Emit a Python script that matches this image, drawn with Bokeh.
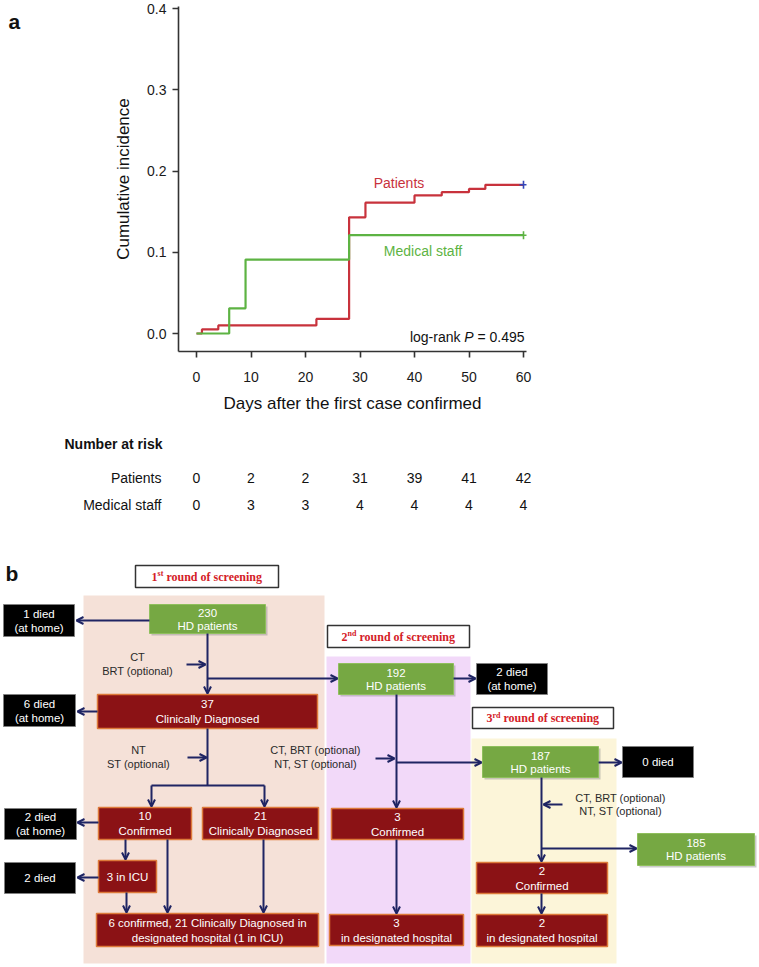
from bokeh.plotting import figure
from bokeh.layouts import column, row
from bokeh.models import (Range1d, FixedTicker, PrintfTickFormatter,
                          ColumnDataSource, Arrow, OpenHead)
from bokeh.core.properties import value
from bokeh.embed import file_html
from bokeh.resources import INLINE

# ---------------- data: panel a ----------------
pat_days = [0, 1, 4, 22, 28, 31, 40, 45, 50, 53, 60]
pat_inc = [0.0, 0.005, 0.010, 0.018, 0.143, 0.161, 0.170, 0.174, 0.178, 0.183, 0.183]
staff_days = [0, 6, 9, 28, 60]
staff_inc = [0.0, 0.031, 0.091, 0.121, 0.121]
x_ticks = [0, 10, 20, 30, 40, 50, 60]
y_ticks = [0.0, 0.1, 0.2, 0.3, 0.4]
risk_days = [0, 10, 20, 30, 40, 50, 60]
risk_patients = [0, 2, 2, 31, 39, 41, 42]
risk_staff = [0, 3, 3, 4, 4, 4, 4]
risk_groups = ["Patients", "Medical staff"]
p_text = ["log-rank", "P", "= 0.495"]

# ---------------- data: panel b (flowchart texts) ----------------
header_num = ["1", "2", "3"]
header_sup = ["st", "nd", "rd"]
header_rest = "round of screening"
green_nodes = [["230", "HD patients"], ["192", "HD patients"],
               ["187", "HD patients"], ["185", "HD patients"]]
red_nodes = [["37", "Clinically Diagnosed"], ["10", "Confirmed"],
             ["21", "Clinically Diagnosed"], ["3 in ICU"],
             ["6 confirmed, 21 Clinically Diagnosed in", "designated hospital (1 in ICU)"],
             ["3", "Confirmed"], ["3", "in designated hospital"],
             ["2", "Confirmed"], ["2", "in designated hospital"]]
black_nodes = [["1 died", "(at home)"], ["6 died", "(at home)"],
               ["2 died", "(at home)"], ["2 died"],
               ["2 died", "(at home)"], ["0 died"]]
side_notes = [["CT", "BRT (optional)"], ["NT", "ST (optional)"],
              ["CT, BRT (optional)", "NT, ST (optional)"],
              ["CT, BRT (optional)", "NT, ST (optional)"]]

# ---------------- layout (page pixel positions) ----------------
panels = [(83, 595, 324, 963), (326, 656, 470, 963), (471, 738, 616, 963)]
panel_colors = ["#f5e1d8", "#f2d9f9", "#fcf5d9"]
header_boxes = [(135, 565, 278, 587), (327, 625, 469, 647), (472, 707, 613, 728)]
green_boxes = [(149, 604, 265, 633), (338, 663, 453, 694),
               (482, 746, 598, 777), (637, 833, 754, 865)]
red_boxes = [(97, 694, 317, 728), (98, 807, 191, 839), (202, 807, 318, 839),
             (98, 860, 156, 892), (96, 913, 318, 946), (331, 808, 463, 839),
             (329, 914, 463, 945), (476, 862, 607, 893), (476, 914, 607, 946)]
black_boxes = [(3, 604, 74, 636), (3, 694, 75, 726), (4, 808, 76, 839),
               (4, 862, 75, 893), (476, 663, 547, 694), (622, 746, 693, 777)]
side_pos = [(137, 663.5), (138, 756.5), (315, 756.5), (620, 804)]
arrows = [(149, 620, 76, 620), (207, 633, 207, 693), (186, 664, 205, 664),
          (207, 678, 337, 678), (97, 711, 77, 711), (151, 785, 151, 806),
          (264, 785, 264, 806), (187, 757, 206, 757), (98, 822, 77, 822),
          (125, 839, 125, 859), (98, 877, 77, 877), (126, 892, 126, 912),
          (167, 839, 167, 912), (263, 839, 263, 912), (453, 678, 475, 678),
          (396, 694, 396, 807), (375, 758, 394, 758), (396, 762, 481, 762),
          (396, 839, 396, 913), (598, 762, 621, 762), (541, 777, 541, 861),
          (562, 804, 543, 804), (541, 848, 636, 848), (541, 893, 541, 913)]
plain_lines = [(207, 728, 207, 785), (151, 785, 264, 785)]

FONT = "Liberation Sans"
NAVY = "#1f2463"
RED = "#c8323c"
GREEN = "#5db343"
PX0, PXD = 196.0, 5.45          # page x of day 0, pixels per day
PY0, PYS = 333.0, 812.5         # page y of 0.0, pixels per unit


def clean(p):
    p.grid.visible = False
    p.outline_line_color = None
    p.background_fill_color = None
    p.border_fill_color = None


# ---------------- label "a" ----------------
fa_lab = figure(width=28, height=420, x_range=Range1d(0, 28), y_range=Range1d(420, 0),
                x_axis_location=None, y_axis_location=None, min_border=0,
                output_backend="svg", toolbar_location=None)
clean(fa_lab)
fa_lab.text(x=[8], y=[18], text=["a"], text_font=value(FONT), text_font_size="21px",
            text_font_style="bold", text_color="#111111", text_baseline="alphabetic")

# ---------------- panel a ----------------
fa = figure(width=731, height=420,
            x_range=Range1d((178 - PX0) / PXD, (526 - PX0) / PXD),
            y_range=Range1d(-(351 - PY0) / PYS, (PY0 - 6) / PYS),
            min_border_left=150, min_border_right=233, min_border_top=6,
            min_border_bottom=69, output_backend="svg", toolbar_location=None)
clean(fa)
for ax in (fa.xaxis[0], fa.yaxis[0]):
    ax.axis_line_color = "#333333"
    ax.axis_line_width = 1.6
    ax.major_tick_line_color = "#333333"
    ax.major_tick_line_width = 1.6
    ax.major_tick_out = 6
    ax.major_tick_in = 0
    ax.minor_tick_line_color = None
    ax.major_label_text_font = FONT
    ax.major_label_text_font_size = "14px"
    ax.major_label_text_color = "#1a1a1a"
    ax.axis_label_text_font = FONT
    ax.axis_label_text_font_size = "17px"
    ax.axis_label_text_font_style = "normal"
    ax.axis_label_text_color = "#111111"
fa.xaxis[0].ticker = FixedTicker(ticks=x_ticks)
fa.yaxis[0].ticker = FixedTicker(ticks=y_ticks)
fa.yaxis[0].formatter = PrintfTickFormatter(format="%.1f")
fa.xaxis[0].axis_label = "Days after the first case confirmed"
fa.yaxis[0].axis_label = "Cumulative incidence"
fa.xaxis[0].major_label_standoff = 14
fa.xaxis[0].axis_label_standoff = 9
fa.yaxis[0].major_label_standoff = 6
fa.yaxis[0].axis_label_standoff = 11

fa.step(pat_days, pat_inc, mode="after", line_color=RED, line_width=2.2)
fa.step(staff_days, staff_inc, mode="after", line_color=GREEN, line_width=2.2)
fa.scatter([pat_days[-1]], [pat_inc[-1]], marker="cross", size=8, line_width=1.6,
           line_color="#3346b8")
fa.scatter([staff_days[-1]], [staff_inc[-1]], marker="cross", size=8, line_width=1.6,
           line_color=GREEN)
fa.text(x=[(398.5 - PX0) / PXD], y=[(PY0 - 182) / PYS], text=["Patients"], text_color=RED,
        text_font=value(FONT), text_font_size="14px", text_align="center",
        text_baseline="middle")
fa.text(x=[(422.5 - PX0) / PXD], y=[(PY0 - 250) / PYS], text=["Medical staff"],
        text_color=GREEN, text_font=value(FONT), text_font_size="14px",
        text_align="center", text_baseline="middle")
px_end = (524 - PX0) / PXD
py_lr = (PY0 - 336) / PYS
fa.text(x=[px_end], y=[py_lr], text=[p_text[2]], text_font=value(FONT),
        text_font_size="14px", text_align="right", text_baseline="middle",
        text_color="#111111")
fa.text(x=[px_end], y=[py_lr], x_offset=[-51], text=[p_text[1]], text_font=value(FONT),
        text_font_size="14px", text_font_style="italic", text_align="right",
        text_baseline="middle", text_color="#111111")
fa.text(x=[px_end], y=[py_lr], x_offset=[-64], text=[p_text[0]], text_font=value(FONT),
        text_font_size="14px", text_align="right", text_baseline="middle",
        text_color="#111111")

# ---------------- number at risk ----------------
fr = figure(width=759, height=128,
            x_range=Range1d((0 - PX0) / PXD, (759 - PX0) / PXD),
            y_range=Range1d(548, 420), x_axis_location=None, y_axis_location=None,
            min_border=0, output_backend="svg", toolbar_location=None)
clean(fr)
fr.text(x=[(64 - PX0) / PXD], y=[443], text=["Number at risk"], text_font=value(FONT),
        text_font_size="14px", text_font_style="bold", text_baseline="middle",
        text_color="#111111")
row_y = [477, 504]
fr.text(x=[(161 - PX0) / PXD] * 2, y=row_y, text=risk_groups, text_font=value(FONT),
        text_font_size="14px", text_align="right", text_baseline="middle",
        text_color="#111111")
for counts, yy in zip([risk_patients, risk_staff], row_y):
    fr.text(x=risk_days, y=[yy] * len(risk_days), text=[str(c) for c in counts],
            text_font=value(FONT), text_font_size="14px", text_align="center",
            text_baseline="middle", text_color="#111111")

# ---------------- panel b: flowchart ----------------
fb = figure(width=759, height=419, x_range=Range1d(0, 759), y_range=Range1d(967, 548),
            x_axis_location=None, y_axis_location=None, min_border=0,
            output_backend="svg", toolbar_location=None)
clean(fb)
fb.text(x=[5], y=[573], text=["b"], text_font=value(FONT), text_font_size="21px",
        text_font_style="bold", text_color="#111111", text_baseline="alphabetic")


def boxes(bx):
    return dict(left=[b[0] for b in bx], right=[b[2] for b in bx],
                top=[b[1] for b in bx], bottom=[b[3] for b in bx])


fb.quad(**boxes(panels), fill_color=panel_colors, line_color=None)

# header boxes
fb.quad(**boxes(header_boxes), fill_color="white", line_color="#333333", line_width=1.5)
w_num, w_rest, w_space = 6.0, 96.0, 3.0
w_sup = [5.8, 8.9, 8.0]
for b, num, sup, ws in zip(header_boxes, header_num, header_sup, w_sup):
    cx, cy = (b[0] + b[2]) / 2, (b[1] + b[3]) / 2
    x0 = cx - (w_num + ws + w_space + w_rest) / 2
    common = dict(text_font=value("Liberation Serif"), text_font_style="bold",
                  text_color="#d42027", text_baseline="middle")
    fb.text(x=[x0], y=[cy], text=[num], text_font_size="12px", **common)
    fb.text(x=[x0 + w_num], y=[cy - 3], text=[sup], text_font_size="8px", **common)
    fb.text(x=[x0 + w_num + ws + w_space], y=[cy], text=[header_rest],
            text_font_size="12px", **common)

# green boxes with a soft shadow
sh = [(b[0] + 2, b[1] + 2, b[2] + 2, b[3] + 2) for b in green_boxes]
fb.quad(**boxes(sh), fill_color="#8c8c8c", fill_alpha=0.45, line_color=None)
fb.quad(**boxes(green_boxes), fill_color="#76a843", line_color="#8fbf5c", line_width=1)
fb.quad(**boxes(red_boxes), fill_color="#8b1215", line_color="#dd7a3a", line_width=1.5)
fb.quad(**boxes(black_boxes), fill_color="#000000", line_color="#808080", line_width=1)


def box_texts(bx, nodes, spacing):
    xs, ys, ts = [], [], []
    for b, lines in zip(bx, nodes):
        cx, cy = (b[0] + b[2]) / 2, (b[1] + b[3]) / 2
        n = len(lines)
        for i, t in enumerate(lines):
            xs.append(cx)
            ys.append(cy + (i - (n - 1) / 2) * spacing)
            ts.append(t)
    return xs, ys, ts


for bx, nodes, sp in [(green_boxes, green_nodes, 13), (red_boxes, red_nodes, 15),
                      (black_boxes, black_nodes, 14)]:
    xs, ys, ts = box_texts(bx, nodes, sp)
    fb.text(x=xs, y=ys, text=ts, text_font=value(FONT), text_font_size="11.5px",
            text_color="white", text_align="center", text_baseline="middle")

sx, sy, st = [], [], []
for (cx, cy), lines in zip(side_pos, side_notes):
    for i, t in enumerate(lines):
        sx.append(cx)
        sy.append(cy + (i - 0.5) * 13.5)
        st.append(t)
fb.text(x=sx, y=sy, text=st, text_font=value(FONT), text_font_size="11px",
        text_color="#2a2a2a", text_align="center", text_baseline="middle")

fb.segment(x0=[l[0] for l in plain_lines], y0=[l[1] for l in plain_lines],
           x1=[l[2] for l in plain_lines], y1=[l[3] for l in plain_lines],
           line_color=NAVY, line_width=2)
arr_src = ColumnDataSource(dict(x0=[a[0] for a in arrows], y0=[a[1] for a in arrows],
                                x1=[a[2] for a in arrows], y1=[a[3] for a in arrows]))
fb.add_layout(Arrow(end=OpenHead(size=7, line_width=2, line_color=NAVY),
                    x_start="x0", y_start="y0", x_end="x1", y_end="y1",
                    source=arr_src, line_color=NAVY, line_width=2))

layout = column(row(fa_lab, fa, spacing=0), fr, fb, spacing=0)
open("out.html", "w").write(file_html(layout, INLINE))
